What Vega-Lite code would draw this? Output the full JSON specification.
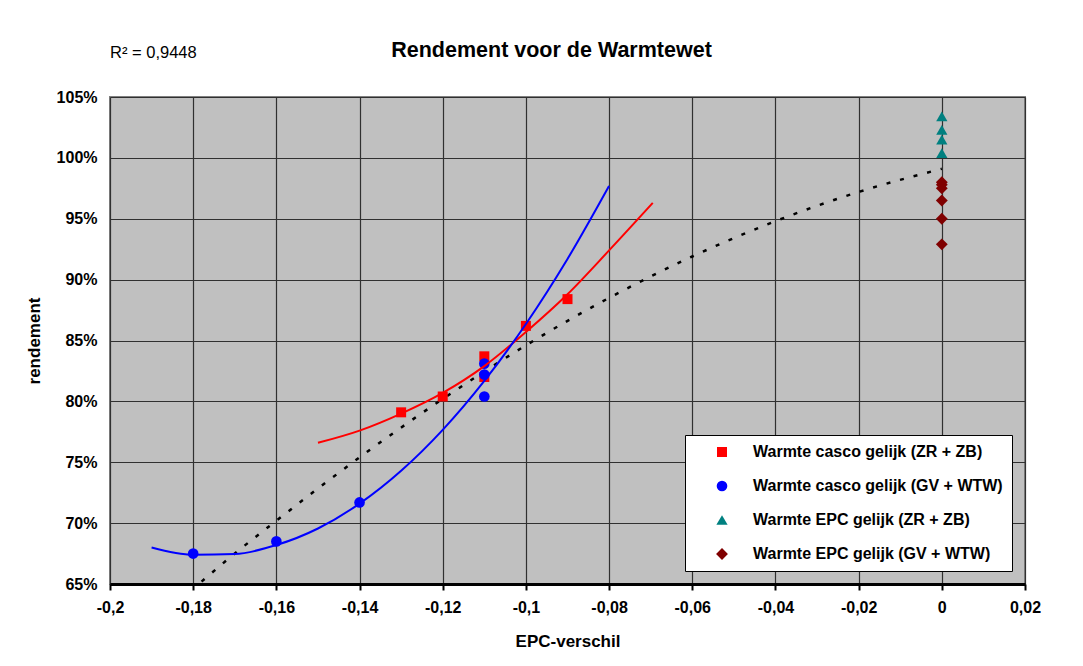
{
  "$schema": "https://vega.github.io/schema/vega-lite/v6.json",
  "width": 915,
  "height": 487,
  "autosize": {"type": "none"},
  "padding": {"left": 110, "top": 97, "right": 58, "bottom": 82},
  "background": "white",
  "title": {
    "text": "Rendement voor de Warmtewet",
    "anchor": "middle",
    "frame": "group",
    "offset": -16,
    "dx": -16,
    "font": "Liberation Sans",
    "fontSize": 21.5,
    "fontWeight": "bold",
    "color": "black"
  },
  "config": {
    "locale": {
      "number": {"decimal": ",", "thousands": ".", "grouping": [3], "currency": ["€ ", ""], "minus": "-"}
    },
    "view": {"fill": "#C0C0C0", "stroke": "#808080", "strokeWidth": 2},
    "font": "Liberation Sans"
  },
  "datasets": {
    "points": [
      {"series": "Warmte casco gelijk (ZR + ZB)", "epc": -0.13, "rendement": 0.791},
      {"series": "Warmte casco gelijk (ZR + ZB)", "epc": -0.12, "rendement": 0.804},
      {"series": "Warmte casco gelijk (ZR + ZB)", "epc": -0.11, "rendement": 0.837},
      {"series": "Warmte casco gelijk (ZR + ZB)", "epc": -0.11, "rendement": 0.820},
      {"series": "Warmte casco gelijk (ZR + ZB)", "epc": -0.10, "rendement": 0.862},
      {"series": "Warmte casco gelijk (ZR + ZB)", "epc": -0.09, "rendement": 0.884},
      {"series": "Warmte casco gelijk (GV + WTW)", "epc": -0.18, "rendement": 0.675},
      {"series": "Warmte casco gelijk (GV + WTW)", "epc": -0.16, "rendement": 0.685},
      {"series": "Warmte casco gelijk (GV + WTW)", "epc": -0.14, "rendement": 0.717},
      {"series": "Warmte casco gelijk (GV + WTW)", "epc": -0.11, "rendement": 0.831},
      {"series": "Warmte casco gelijk (GV + WTW)", "epc": -0.11, "rendement": 0.822},
      {"series": "Warmte casco gelijk (GV + WTW)", "epc": -0.11, "rendement": 0.804},
      {"series": "Warmte EPC gelijk (ZR + ZB)", "epc": 0, "rendement": 1.034},
      {"series": "Warmte EPC gelijk (ZR + ZB)", "epc": 0, "rendement": 1.023},
      {"series": "Warmte EPC gelijk (ZR + ZB)", "epc": 0, "rendement": 1.015},
      {"series": "Warmte EPC gelijk (ZR + ZB)", "epc": 0, "rendement": 1.004},
      {"series": "Warmte EPC gelijk (GV +  WTW)", "epc": 0, "rendement": 0.980},
      {"series": "Warmte EPC gelijk (GV +  WTW)", "epc": 0, "rendement": 0.978},
      {"series": "Warmte EPC gelijk (GV +  WTW)", "epc": 0, "rendement": 0.975},
      {"series": "Warmte EPC gelijk (GV +  WTW)", "epc": 0, "rendement": 0.965},
      {"series": "Warmte EPC gelijk (GV +  WTW)", "epc": 0, "rendement": 0.950},
      {"series": "Warmte EPC gelijk (GV +  WTW)", "epc": 0, "rendement": 0.929}
    ],
    "trend": [
      {"trend": "red", "epc": -0.15, "rendement": 0.766},
      {"trend": "red", "epc": -0.14, "rendement": 0.776},
      {"trend": "red", "epc": -0.13, "rendement": 0.790},
      {"trend": "red", "epc": -0.12, "rendement": 0.807},
      {"trend": "red", "epc": -0.11, "rendement": 0.829},
      {"trend": "red", "epc": -0.10, "rendement": 0.857},
      {"trend": "red", "epc": -0.09, "rendement": 0.888},
      {"trend": "red", "epc": -0.08, "rendement": 0.924},
      {"trend": "red", "epc": -0.0695, "rendement": 0.963},
      {"trend": "blue", "epc": -0.19, "rendement": 0.680},
      {"trend": "blue", "epc": -0.18, "rendement": 0.674},
      {"trend": "blue", "epc": -0.17, "rendement": 0.6746},
      {"trend": "blue", "epc": -0.16, "rendement": 0.682},
      {"trend": "blue", "epc": -0.15, "rendement": 0.6956},
      {"trend": "blue", "epc": -0.14, "rendement": 0.716},
      {"trend": "blue", "epc": -0.13, "rendement": 0.743},
      {"trend": "blue", "epc": -0.12, "rendement": 0.7766},
      {"trend": "blue", "epc": -0.11, "rendement": 0.8168},
      {"trend": "blue", "epc": -0.10, "rendement": 0.8636},
      {"trend": "blue", "epc": -0.09, "rendement": 0.917},
      {"trend": "blue", "epc": -0.08, "rendement": 0.977},
      {"trend": "all", "epc": -0.178, "rendement": 0.652},
      {"trend": "all", "epc": -0.17, "rendement": 0.675},
      {"trend": "all", "epc": -0.16, "rendement": 0.702},
      {"trend": "all", "epc": -0.14, "rendement": 0.754},
      {"trend": "all", "epc": -0.12, "rendement": 0.802},
      {"trend": "all", "epc": -0.10, "rendement": 0.846},
      {"trend": "all", "epc": -0.08, "rendement": 0.885},
      {"trend": "all", "epc": -0.06, "rendement": 0.919},
      {"trend": "all", "epc": -0.04, "rendement": 0.948},
      {"trend": "all", "epc": -0.02, "rendement": 0.972},
      {"trend": "all", "epc": 0, "rendement": 0.991}
    ],
    "note": [
      {"label": "R² = 0,9448", "epc": -0.2, "rendement": 1.086}
    ]
  },
  "encoding": {
    "x": {
      "field": "epc",
      "type": "quantitative",
      "scale": {"domain": [-0.2, 0.02], "nice": false, "zero": false},
      "axis": {
        "title": "EPC-verschil",
        "values": [-0.2, -0.18, -0.16, -0.14, -0.12, -0.1, -0.08, -0.06, -0.04, -0.02, 0, 0.02],
        "format": "~g",
        "labelFont": "Liberation Sans",
        "labelFontSize": 16,
        "labelFontWeight": "bold",
        "labelColor": "black",
        "labelPadding": 9,
        "titleFont": "Liberation Sans",
        "titleFontSize": 17,
        "titleFontWeight": "bold",
        "titleColor": "black",
        "titlePadding": 18,
        "domainColor": "black",
        "domainWidth": 3,
        "tickColor": "black",
        "tickWidth": 2,
        "tickSize": 6,
        "gridColor": "#303030",
        "gridWidth": 1.2,
        "gridOpacity": 1,
        "labelFlush": false
      }
    },
    "y": {
      "field": "rendement",
      "type": "quantitative",
      "scale": {"domain": [0.65, 1.05], "nice": false, "zero": false},
      "axis": {
        "title": "rendement",
        "values": [0.65, 0.7, 0.75, 0.8, 0.85, 0.9, 0.95, 1.0, 1.05],
        "format": ".0%",
        "labelFont": "Liberation Sans",
        "labelFontSize": 16,
        "labelFontWeight": "bold",
        "labelColor": "black",
        "labelPadding": 13,
        "ticks": false,
        "domain": false,
        "titleFont": "Liberation Sans",
        "titleFontSize": 17,
        "titleFontWeight": "bold",
        "titleColor": "black",
        "titlePadding": 13,
        "gridColor": "#303030",
        "gridWidth": 1.2,
        "gridOpacity": 1,
        "labelFlush": false
      }
    }
  },
  "layer": [
    {
      "data": {"name": "trend"},
      "transform": [{"filter": "datum.trend === 'all'"}],
      "mark": {"type": "line", "color": "black", "strokeWidth": 2.5, "strokeDash": [4, 10], "interpolate": "monotone", "clip": true},
      "encoding": {"order": {"field": "epc", "type": "quantitative"}}
    },
    {
      "data": {"name": "points"},
      "mark": {"type": "point", "filled": true, "opacity": 1, "strokeWidth": 0},
      "encoding": {
        "color": {
          "field": "series",
          "type": "nominal",
          "scale": {
            "domain": ["Warmte casco gelijk (ZR + ZB)", "Warmte casco gelijk (GV + WTW)", "Warmte EPC gelijk (ZR + ZB)", "Warmte EPC gelijk (GV +  WTW)"],
            "range": ["#FF0000", "#0000FF", "#008080", "#800000"]
          },
          "legend": {
            "title": null,
            "orient": "bottom-right",
            "offset": 13,
            "fillColor": "white",
            "strokeColor": "black",
            "padding": 9,
            "symbolOffset": 20,
            "symbolSize": 70,
            "labelFont": "Liberation Sans",
            "labelFontSize": 16,
            "labelFontWeight": "bold",
            "labelColor": "black",
            "labelOffset": 23,
            "rowPadding": 18,
            "labelLimit": 400
          }
        },
        "shape": {
          "field": "series",
          "type": "nominal",
          "scale": {
            "domain": ["Warmte casco gelijk (ZR + ZB)", "Warmte casco gelijk (GV + WTW)", "Warmte EPC gelijk (ZR + ZB)", "Warmte EPC gelijk (GV +  WTW)"],
            "range": ["square", "circle", "triangle-up", "diamond"]
          }
        },
        "size": {
          "field": "series",
          "type": "ordinal",
          "scale": {
            "domain": ["Warmte casco gelijk (ZR + ZB)", "Warmte casco gelijk (GV + WTW)", "Warmte EPC gelijk (ZR + ZB)", "Warmte EPC gelijk (GV +  WTW)"],
            "range": [100, 140, 95, 70]
          },
          "legend": null
        }
      }
    },
    {
      "data": {"name": "trend"},
      "transform": [{"filter": "datum.trend === 'red'"}],
      "mark": {"type": "line", "color": "#FF0000", "strokeWidth": 2, "interpolate": "monotone"},
      "encoding": {"order": {"field": "epc", "type": "quantitative"}}
    },
    {
      "data": {"name": "trend"},
      "transform": [{"filter": "datum.trend === 'blue'"}],
      "mark": {"type": "line", "color": "#0000FF", "strokeWidth": 2, "interpolate": "monotone"},
      "encoding": {"order": {"field": "epc", "type": "quantitative"}}
    },
    {
      "data": {"name": "note"},
      "mark": {"type": "text", "align": "left", "baseline": "middle", "font": "Liberation Sans", "fontSize": 16.5, "color": "black", "clip": false},
      "encoding": {"text": {"field": "label"}}
    }
  ]
}
